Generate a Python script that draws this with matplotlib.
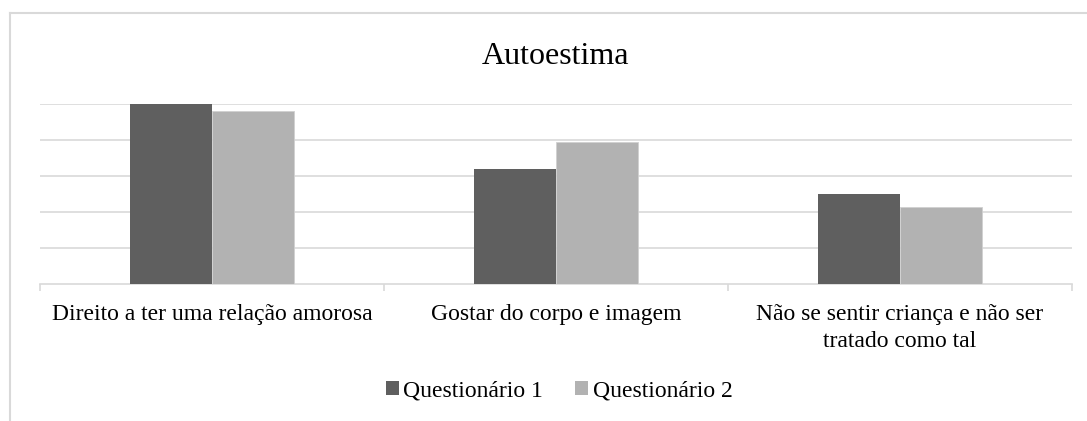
import matplotlib
matplotlib.use("Agg")
import matplotlib.pyplot as plt
from matplotlib.lines import Line2D
from matplotlib.patches import Patch
import numpy as np

plt.rcParams['font.family'] = ['Liberation Serif', 'DejaVu Serif']

categories = ["Direito a ter uma relação amorosa",
              "Gostar do corpo e imagem",
              "Não se sentir criança e não ser\ntratado como tal"]
series_names = ["Questionário 1", "Questionário 2"]
q1 = [1.00, 0.64, 0.50]
q2 = [0.96, 0.79, 0.43]
title = "Autoestima"

W, H = 1087, 421
fig = plt.figure(figsize=(W / 100, H / 100), dpi=100)

ax = fig.add_axes([40 / W, 1 - 284 / H, (1072 - 40) / W, (284 - 104) / H])
x = np.arange(len(categories))
bw = 0.238
c1, c2 = "#5f5f5f", "#b2b2b2"
ax.bar(x - bw / 2, q1, bw, color=c1, label=series_names[0], zorder=3)
ax.bar(x + bw / 2, q2, bw, color=c2, label=series_names[1], zorder=3,
       edgecolor="#d0d0d0", linewidth=0.6)

ax.set_xlim(-0.5, 2.5)
ax.set_ylim(0, 1.0)
ax.set_yticks(np.arange(0.2, 1.01, 0.2))
ax.yaxis.grid(True, color="#d9d9d9", linewidth=1.2, zorder=0)
ax.tick_params(axis="y", length=0, labelleft=False)
for s in ["top", "right", "left"]:
    ax.spines[s].set_visible(False)
ax.spines["bottom"].set_color("#d9d9d9")
ax.spines["bottom"].set_linewidth(1.2)

ax.set_xticks(x)
ax.set_xticklabels(categories, fontsize=17, color="#000000", linespacing=1.35,
                   family=['Liberation Serif', 'DejaVu Serif'])
ax.tick_params(axis="x", length=0, pad=14.5)
ax.set_xticks([-0.5, 0.5, 1.5, 2.5], minor=True)
ax.tick_params(axis="x", which="minor", length=5, color="#d9d9d9", width=1.2)

fig.text(555 / W, 1 - 57 / H, title, fontsize=23, ha="center", va="center")

handles = [Patch(facecolor=c1), Patch(facecolor=c2)]
fig.legend(handles, series_names, loc="center", bbox_to_anchor=(559 / W, 1 - 391 / H),
           ncol=2, frameon=False, fontsize=17, handlelength=0.55, handleheight=0.55,
           handletextpad=0.2, columnspacing=1.35)

fig.add_artist(Line2D([10 / W, 1], [1 - 13 / H, 1 - 13 / H], color="#d9d9d9", linewidth=1.5,
                      transform=fig.transFigure))
fig.add_artist(Line2D([10 / W, 10 / W], [1 - 13 / H, 0], color="#d9d9d9", linewidth=1.5,
                      transform=fig.transFigure))

fig.savefig("out.png", dpi=100)
